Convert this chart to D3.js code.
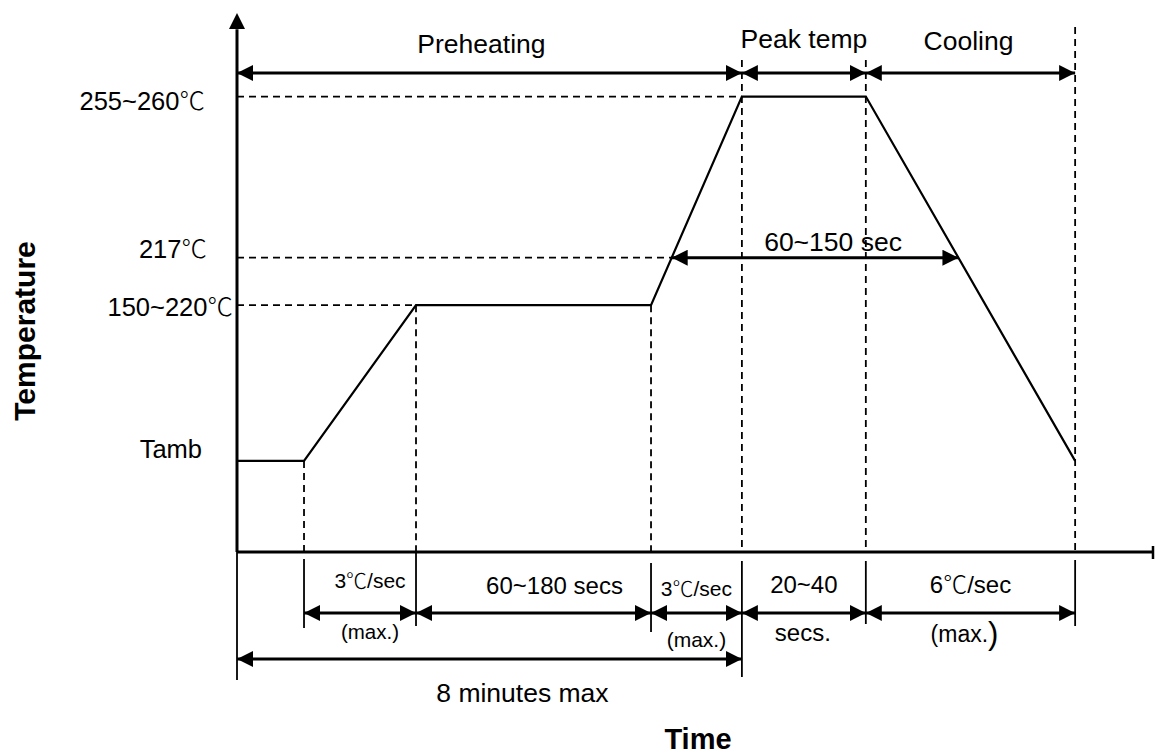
<!DOCTYPE html>
<html>
<head>
<meta charset="utf-8">
<script src="https://cdn.jsdelivr.net/npm/d3@7"></script>
<style>
  body { margin: 0; background: #fff; }
  text { font-family: "Liberation Sans", Arial, "Noto Sans CJK SC", sans-serif; fill: #000; }
  tspan.deg { font-family: "Noto Sans CJK SC", sans-serif; font-weight: 200; }
</style>
</head>
<body>
<div id="wrapper"></div>
<script>
// profile key points (schematic units, time 0-100, temperature 0-100)
const profileTime = [0, 7.3, 19.5, 45.1, 55.0, 68.5, 91.3];
const profileTemp = [16.9, 16.9, 45.8, 45.8, 84.5, 84.5, 16.9];

// temperature levels and their labels
const levelValues = [84.5, 54.6, 45.8, 16.9];
const levelLabels = ["255~260℃", "217℃", "150~220℃", "Tamb"];

// top phases
const phaseStarts = [0, 55.0, 68.5];
const phaseEnds = [55.0, 68.5, 91.3];
const phaseLabels = ["Preheating", "Peak temp", "Cooling"];

// bottom intervals
const stepStarts = [7.3, 19.5, 45.1, 55.0, 68.5];
const stepEnds = [19.5, 45.1, 55.0, 68.5, 91.3];
const stepTop = ["3℃/sec", "60~180 secs", "3℃/sec", "20~40", "6℃/sec"];
const stepBottom = ["(max.)", "", "(max.)", "secs.", "(max.)"];

const width = 1155;
const height = 755;

const x = d3.scaleLinear().domain([0, 100]).range([237, 1155]);
const y = d3.scaleLinear().domain([0, 100]).range([552, 13]);

const svg = d3
  .select("#wrapper")
  .append("svg")
  .attr("width", width)
  .attr("height", height);

const defs = svg.append("defs");
["start", "end"].forEach((kind) => {
  defs
    .append("marker")
    .attr("id", `arrow-${kind}`)
    .attr("markerUnits", "userSpaceOnUse")
    .attr("viewBox", "0 -8 16 16")
    .attr("refX", kind === "end" ? 16 : 0)
    .attr("refY", 0)
    .attr("markerWidth", 16)
    .attr("markerHeight", 16)
    .attr("orient", "auto")
    .append("path")
    .attr("d", kind === "end" ? "M0,-8L16,0L0,8Z" : "M16,-8L0,0L16,8Z")
    .attr("fill", "#000");
});

function dimension(x1, x2, yy) {
  svg
    .append("line")
    .attr("x1", x1)
    .attr("x2", x2)
    .attr("y1", yy)
    .attr("y2", yy)
    .attr("stroke", "#000")
    .attr("stroke-width", 3)
    .attr("marker-start", "url(#arrow-start)")
    .attr("marker-end", "url(#arrow-end)");
}

function dashed(x1, y1, x2, y2) {
  svg
    .append("line")
    .attr("x1", x1)
    .attr("y1", y1)
    .attr("x2", x2)
    .attr("y2", y2)
    .attr("stroke", "#000")
    .attr("stroke-width", 1.8)
    .attr("stroke-dasharray", "7,5");
}

function solid(x1, y1, x2, y2, w = 1.8) {
  svg
    .append("line")
    .attr("x1", x1)
    .attr("y1", y1)
    .attr("x2", x2)
    .attr("y2", y2)
    .attr("stroke", "#000")
    .attr("stroke-width", w);
}

// text with the ℃ sign set in a thin CJK face
function label(sel, str) {
  sel.text(null);
  str.split(/(℃)/).forEach((part) => {
    if (!part) return;
    sel.append("tspan").attr("class", part === "℃" ? "deg" : null).text(part);
  });
}

// axes
solid(x(0), y(0), x(0), y(97), 3);
svg
  .append("path")
  .attr("d", `M${x(0)},${y(100)}L${x(0) - 8},${y(100) + 16}L${x(0) + 8},${y(100) + 16}Z`)
  .attr("fill", "#000");
solid(x(0), y(0), 1154, y(0), 3);
solid(1153, y(0) - 6, 1153, y(0) + 7, 2.5);

// horizontal dashed level guides
const profilePoints = profileTime.map((t, i) => [x(t), y(profileTemp[i])]);
dashed(x(0), y(levelValues[0]), x(profileTime[4]), y(levelValues[0]));
dashed(x(0), y(levelValues[2]), x(profileTime[2]), y(levelValues[2]));

// where the profile crosses 217
const rise = d3.scaleLinear().domain([profileTemp[3], profileTemp[4]]).range([profileTime[3], profileTime[4]]);
const fall = d3.scaleLinear().domain([profileTemp[5], profileTemp[6]]).range([profileTime[5], profileTime[6]]);
const t217a = rise(levelValues[1]);
const t217b = fall(levelValues[1]);
dashed(x(0), y(levelValues[1]), x(t217a), y(levelValues[1]));

// vertical dashed guides
[1, 2, 3].forEach((i) => dashed(x(profileTime[i]), y(profileTemp[i]), x(profileTime[i]), y(0)));
[4, 5].forEach((i) => dashed(x(profileTime[i]), 60, x(profileTime[i]), y(0)));
dashed(x(profileTime[6]), 27, x(profileTime[6]), y(0));

// profile line
svg
  .append("path")
  .attr("d", d3.line()(profilePoints))
  .attr("fill", "none")
  .attr("stroke", "#000")
  .attr("stroke-width", 2.2);

// level labels
const levelRight = [205, 207, 233, 202];
const levelShift = [13, 0, 11, -3];
svg
  .selectAll("text.level")
  .data(levelLabels)
  .join("text")
  .attr("class", "level")
  .attr("x", (d, i) => levelRight[i])
  .attr("y", (d, i) => y(levelValues[i]) + levelShift[i])
  .attr("text-anchor", "end")
  .attr("font-size", 25.5)
  .each(function (d) {
    label(d3.select(this), d);
  });

// top phase arrows
phaseLabels.forEach((_, i) => dimension(x(phaseStarts[i]), x(phaseEnds[i]), 73));
const phaseShift = [-8, 0, -2];
const phaseBase = [53, 48, 50];
svg
  .selectAll("text.phase")
  .data(phaseLabels)
  .join("text")
  .attr("class", "phase")
  .attr("x", (d, i) => (x(phaseStarts[i]) + x(phaseEnds[i])) / 2 + phaseShift[i])
  .attr("y", (d, i) => phaseBase[i])
  .attr("text-anchor", "middle")
  .attr("font-size", 26.5)
  .text((d) => d);

// 60~150 sec arrow
dimension(x(t217a), x(t217b), y(levelValues[1]));
svg
  .append("text")
  .attr("x", (x(t217a) + x(t217b)) / 2 + 18)
  .attr("y", y(levelValues[1]) - 7)
  .attr("text-anchor", "middle")
  .attr("font-size", 26.5)
  .text("60~150 sec");

// bottom extension lines
solid(x(0), y(0), x(0), 680);
solid(x(profileTime[1]), 559, x(profileTime[1]), 628);
solid(x(profileTime[2]), 553, x(profileTime[2]), 626);
solid(x(profileTime[3]), 563, x(profileTime[3]), 632);
solid(x(profileTime[4]), 561, x(profileTime[4]), 677);
solid(x(profileTime[5]), 561, x(profileTime[5]), 624);
solid(x(profileTime[6]), 560, x(profileTime[6]), 626);

// bottom dimension arrows
stepStarts.forEach((s, i) => dimension(x(s), x(stepEnds[i]), 613));
dimension(x(0), x(profileTime[4]), 659);

const topShift = [10, 21, 0, 0, 0];
const topBase = [588, 594, 596, 593, 593];
const topSize = [21, 24, 21, 24, 24];
svg
  .selectAll("text.step-top")
  .data(stepTop)
  .join("text")
  .attr("class", "step-top")
  .attr("x", (d, i) => (x(stepStarts[i]) + x(stepEnds[i])) / 2 + topShift[i])
  .attr("y", (d, i) => topBase[i])
  .attr("text-anchor", "middle")
  .attr("font-size", (d, i) => topSize[i])
  .each(function (d) {
    label(d3.select(this), d);
  });

const bottomShift = [10, 0, 0, -1, -6];
const bottomBase = [639, 0, 647, 641, 642];
const bottomSize = [20.5, 0, 21, 24, 23];
svg
  .selectAll("text.step-bottom")
  .data(stepBottom)
  .join("text")
  .attr("class", "step-bottom")
  .attr("x", (d, i) => (x(stepStarts[i]) + x(stepEnds[i])) / 2 + bottomShift[i])
  .attr("y", (d, i) => bottomBase[i])
  .attr("text-anchor", "middle")
  .attr("font-size", (d, i) => bottomSize[i])
  .each(function (d, i) {
    const sel = d3.select(this);
    if (i === 4) {
      sel.append("tspan").text(d.slice(0, -1));
      sel.append("tspan").attr("font-size", 31).attr("dy", 2).text(d.slice(-1));
    } else {
      sel.text(d);
    }
  });

svg
  .append("text")
  .attr("x", (x(0) + x(profileTime[4])) / 2 + 33)
  .attr("y", 702)
  .attr("text-anchor", "middle")
  .attr("font-size", 26.5)
  .text("8 minutes max");

// axis titles
svg
  .append("text")
  .attr("x", 698)
  .attr("y", 749)
  .attr("text-anchor", "middle")
  .attr("font-size", 29)
  .attr("font-weight", "bold")
  .text("Time");

svg
  .append("text")
  .attr("transform", "translate(35,331) rotate(-90)")
  .attr("text-anchor", "middle")
  .attr("font-size", 30)
  .attr("font-weight", "bold")
  .text("Temperature");
</script>
</body>
</html>
